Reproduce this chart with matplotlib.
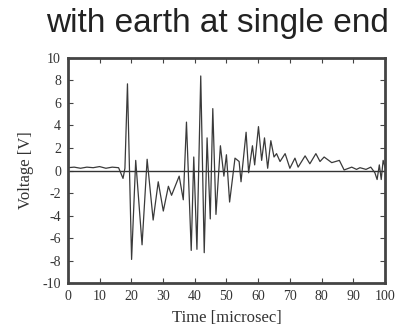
import matplotlib
matplotlib.use("Agg")
import matplotlib.pyplot as plt

# waveform (peaks / troughs)
time_us = [0, 2, 4, 6, 8, 10, 12, 14, 16, 17.4, 18.0,
           18.8, 20.1, 21.4, 23.4, 25.0, 26.9, 28.5, 30.1, 31.7, 32.7,
           35.1, 36.4, 37.4, 38.9, 39.7, 40.7, 41.9, 43.0, 43.9, 44.9,
           45.7, 46.7, 48.1, 49.2, 50.0, 51.0, 52.7, 54.0, 54.6, 56.2,
           57.0, 58.2, 58.9, 60.1, 61.1, 62.0, 63.0, 64.0, 65.0, 65.8,
           66.9, 68.5, 70.0, 71.6, 72.6, 74.8, 76.3, 78.2, 79.5, 80.8,
           83.2, 85.6, 87.1, 89.5, 91.0, 92.1, 94.0, 95.5, 96.8, 97.5,
           98.2, 98.8, 99.4, 100]
voltage_v = [0.25, 0.3, 0.2, 0.3, 0.25, 0.35, 0.2, 0.3, 0.25, -0.7, 0.2,
             7.7, -7.9, 0.9, -6.6, 1.0, -4.4, -1.0, -3.6, -1.4, -2.2,
             -0.5, -2.6, 4.3, -7.1, 1.2, -7.0, 8.4, -7.3, 2.9, -4.3,
             5.5, -3.9, 2.2, -0.5, 1.4, -2.8, 1.1, 0.8, -1.0, 3.4,
             -0.2, 2.2, 0.5, 3.9, 0.9, 2.9, 0.2, 2.65, 1.2, 1.5,
             0.8, 1.5, 0.2, 1.1, 0.3, 1.3, 0.6, 1.5, 0.8, 1.2,
             0.7, 0.9, 0.05, 0.3, 0.1, 0.25, 0.1, 0.3, -0.2, -0.8,
             0.5, -0.8, 0.9, 0.3]

xticks = [0, 10, 20, 30, 40, 50, 60, 70, 80, 90, 100]
yticks = [-10, -8, -6, -4, -2, 0, 2, 4, 6, 8, 10]

fig = plt.figure(figsize=(3.99, 3.35), dpi=100)
ax = fig.add_axes([0.170, 0.155, 0.795, 0.672])

ax.axhline(0, color="#333333", lw=1.0)
ax.plot(time_us, voltage_v, color="#3a3a3a", lw=0.9)

ax.set_xlim(0, 100)
ax.set_ylim(-10, 10)
ax.set_xticks(xticks)
ax.set_yticks(yticks)

serif = {"family": "Liberation Serif", "size": 10}
ax.set_xticklabels([str(t) for t in xticks], fontdict=serif, color="#333333")
ax.set_yticklabels([str(t) for t in yticks], fontdict=serif, color="#333333")
ax.tick_params(direction="in", length=3.5, width=0.8, top=True, right=True,
               color="#444444", pad=5)
for s in ax.spines.values():
    s.set_linewidth(2)
    s.set_color("#444444")

ax.set_xlabel("Time [microsec]", family="Liberation Serif", fontsize=12,
              color="#333333", labelpad=5)
ax.set_ylabel("Voltage [V]", family="Liberation Serif", fontsize=12,
              color="#333333", labelpad=6)

fig.text(0.544, 0.904, "with earth at single end", family="Liberation Sans",
         fontsize=24, ha="center", va="baseline", color="#222222")

fig.savefig("out.png", dpi=100)
